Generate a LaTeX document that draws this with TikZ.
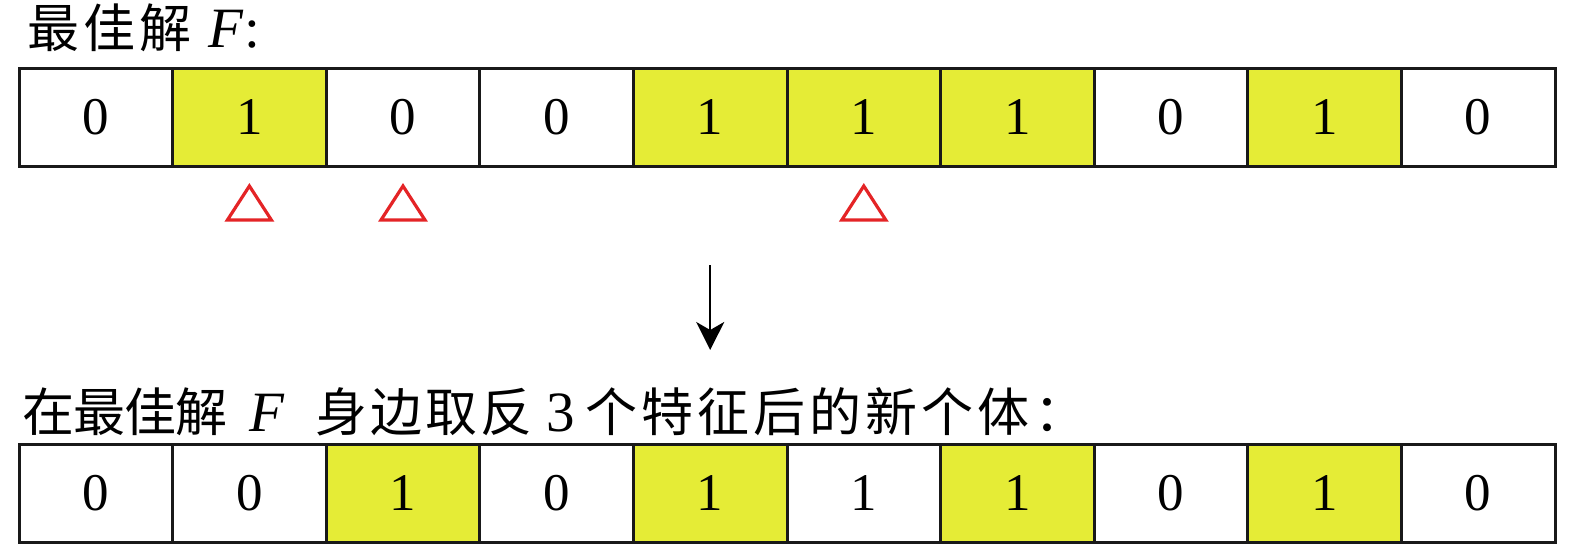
\documentclass[tikz,border=0pt]{standalone}
\usepackage{fontspec}
\setmainfont{Liberation Serif}
\newfontfamily\cjk{Noto Sans CJK SC}
\usetikzlibrary{calc,arrows.meta}
\definecolor{hl}{RGB}{229,236,54}
\definecolor{mk}{RGB}{228,36,38}
\newcommand\lat[1]{{\fontsize{57}{57}\selectfont\rmfamily #1}}
\tikzset{
  cell/.style={draw=black!90, line width=3pt, minimum width=153.6pt, minimum height=98pt,
    inner sep=0pt, font=\fontsize{53}{53}\selectfont, anchor=center},
  on/.style={cell, fill=hl},
  off/.style={cell, fill=white},
  tri/.style={draw=mk, line width=3.2pt, line join=miter},
  lbl/.style={anchor=base west, inner sep=0pt, font=\fontsize{52}{52}\selectfont},
  flow/.style={line width=2.5pt, -{Stealth[length=28pt, width=28pt, inset=8pt]}}
}
\begin{document}
\begin{tikzpicture}[x=1pt, y=-1pt]
\useasboundingbox (0,0) rectangle (1575,547);
% title
\node[lbl] (t1) at (27,47) {\makebox[181pt][l]{\cjk 最\kern4pt 佳\kern4pt 解}\lat{\itshape F}\kern1pt\lat{:}};
% top row
\foreach \v [count=\i] in {0,1,0,0,1,1,1,0,1,0} {
  \ifnum\v=1 \def\st{on}\else\def\st{off}\fi
  \node[\st] (a\i) at ({19+153.6*(\i-0.5)},117.5) {\v};
}
% markers
\foreach \k in {2,3,6} {
  \coordinate (m\k) at ($(a\k.south)+(0,35)$);
  \draw[tri] ($(m\k)+(0,-17)$) -- ($(m\k)+(22,17)$) -- ($(m\k)+(-22,17)$) -- cycle;
}
% arrow
\coordinate (s) at ($(a5.south)+(0,97)$);
\coordinate (e) at ($(a5.south)+(0,182)$);
\draw[flow] (s) -- (e);
% second label
\node[lbl] (t2) at (22,431) {\cjk
  \makebox[227pt][l]{在\kern-1pt 最\kern-1pt 佳\kern-1pt 解}%
  \makebox[66pt][l]{\lat{\itshape F}}%
  \makebox[231pt][l]{身\kern3pt 边\kern3pt 取\kern3pt 反}%
  \makebox[39pt][l]{\lat{3}}%
  个\kern4pt 特\kern4pt 征\kern4pt 后\kern4pt 的\kern4pt 新\kern4pt 个\kern4pt 体\kern5pt ：};
% bottom row
\foreach \v/\h [count=\i] in {0/0,0/0,1/1,0/0,1/1,1/0,1/1,0/0,1/1,0/0} {
  \ifnum\h=1 \def\st{on}\else\def\st{off}\fi
  \node[\st] (b\i) at ({19+153.6*(\i-0.5)},493) {\v};
}
\end{tikzpicture}
\end{document}
